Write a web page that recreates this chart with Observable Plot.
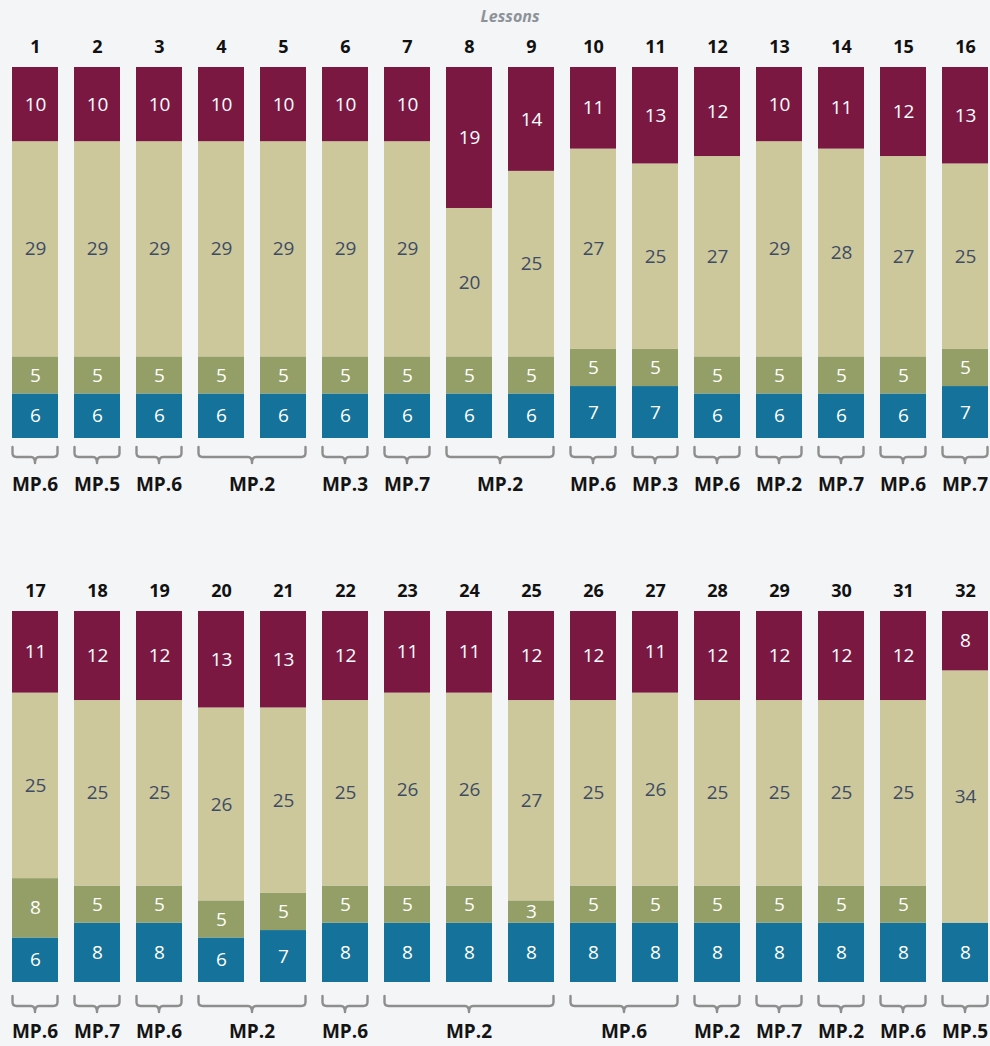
<!DOCTYPE html>
<html>
<head>
<meta charset="utf-8">
<script src="https://cdn.jsdelivr.net/npm/d3@7"></script>
<script src="https://cdn.jsdelivr.net/npm/@observablehq/plot@0.6"></script>
<style>
  html, body { margin: 0; padding: 0; background: #f3f5f7; }
  #wrap { position: relative; width: 990px; height: 1046px; overflow: hidden; background: #f3f5f7; font-family: "Open Sans", sans-serif; }
  #title { position: absolute; top: 5px; left: 460px; width: 100px; text-align: center; font: italic bold 16px "Open Sans", sans-serif; color: #8d9299; }
  .row { position: absolute; left: 0; }
</style>
</head>
<body>
<div id="wrap">
  <div id="title">Lessons</div>
  <div id="row1" class="row" style="top:0px"></div>
  <div id="row2" class="row" style="top:544px"></div>
</div>
<script>
// ---- data ----
const lessons = d3.range(1, 33);
const segments = ["Part 1", "Part 2", "Part 3", "Part 4"]; // bottom to top
const segmentColors = ["#15729a", "#939f66", "#cdc89c", "#7b1842"];
const labelColors = ["#ffffff", "#ffffff", "#3e4c63", "#ffffff"];
const part1Values = [6,6,6,6,6,6,6,6,6,7,7,6,6,6,6,7, 6,8,8,6,7,8,8,8,8,8,8,8,8,8,8,8];
const part2Values = [5,5,5,5,5,5,5,5,5,5,5,5,5,5,5,5, 8,5,5,5,5,5,5,5,3,5,5,5,5,5,5,0];
const part3Values = [29,29,29,29,29,29,29,20,25,27,25,27,29,28,27,25, 25,25,25,26,25,25,26,26,27,25,26,25,25,25,25,34];
const part4Values = [10,10,10,10,10,10,10,19,14,11,13,12,10,11,12,13, 11,12,12,13,13,12,11,11,12,12,11,12,12,12,12,8];

const mpFirst = [1,2,3,4,6,7,8,10,11,12,13,14,15,16, 17,18,19,20,22,23,26,28,29,30,31,32];
const mpLast  = [1,2,3,5,6,7,9,10,11,12,13,14,15,16, 17,18,19,21,22,25,27,28,29,30,31,32];
const mpLabel = ["MP.6","MP.5","MP.6","MP.2","MP.3","MP.7","MP.2","MP.6","MP.3","MP.6","MP.2","MP.7","MP.6","MP.7",
                 "MP.6","MP.7","MP.6","MP.2","MP.6","MP.2","MP.6","MP.2","MP.7","MP.2","MP.6","MP.5"];

const valueArrays = [part1Values, part2Values, part3Values, part4Values];
const rows = [];
lessons.forEach((lesson, i) => {
  segments.forEach((s, k) => rows.push({lesson, segment: s, value: valueArrays[k][i]}));
});
const groups = mpFirst.map((f, i) => ({first: f, last: mpLast[i], label: mpLabel[i]}));

function bracketMark(groupData, off) {
  return (index, scales) => {
    const x = scales.x, y = scales.y;
    const bw = x.bandwidth ? x.bandwidth() : 46;
    const base = y(0);
    const g = d3.create("svg:g");
    for (const d of groupData) {
      const x0 = x(d.first) + 0.5, x1 = x(d.last) + bw - 0.5, xc = (x0 + x1) / 2;
      const yt = base + off.top, yh = base + off.line, yd = base + off.tick;
      const r = 4;
      g.append("path")
        .attr("d", `M${x0},${yt} L${x0},${yh - r} Q${x0},${yh} ${x0 + r},${yh} L${xc - r},${yh} Q${xc},${yh} ${xc},${yd} Q${xc},${yh} ${xc + r},${yh} L${x1 - r},${yh} Q${x1},${yh} ${x1},${yh - r} L${x1},${yt}`)
        .attr("fill", "none").attr("stroke", "#8e8e8e").attr("stroke-width", 2.4)
        .attr("stroke-linejoin", "round").attr("stroke-linecap", "round");
      g.append("text")
        .attr("x", xc).attr("y", base + off.label)
        .attr("text-anchor", "middle").attr("dominant-baseline", "central")
        .attr("font-family", "'Open Sans', sans-serif").attr("font-weight", 700)
        .attr("font-size", 19).attr("fill", "#141414")
        .text(d.label);
    }
    return g.node();
  };
}

function makeRow(rowLessons, off) {
  const data = rows.filter(d => rowLessons.includes(d.lesson));
  const gdata = groups.filter(g => rowLessons.includes(g.first));
  const textMarks = segments.map((s, k) =>
    Plot.text(data, Plot.stackY({
      x: "lesson", y: "value", z: "segment", order: segments,
      text: d => (d.segment === s && d.value > 0) ? String(d.value) : "",
      fill: labelColors[k], fontSize: 19
    }))
  );
  return Plot.plot({
    width: 990,
    height: 500,
    marginTop: 67,
    marginBottom: 62,
    marginLeft: 0,
    marginRight: 0,
    style: {background: "transparent", fontFamily: "'Open Sans', sans-serif", overflow: "visible"},
    x: {domain: rowLessons, range: [1.9, 998.7], paddingInner: 0.26, paddingOuter: 0.13, axis: null},
    y: {domain: [0, 50], axis: null},
    color: {type: "ordinal", domain: segments, range: segmentColors},
    marks: [
      Plot.barY(data, Plot.stackY({x: "lesson", y: "value", fill: "segment", order: segments})),
      ...textMarks,
      Plot.text(rowLessons, {x: d => d, text: d => String(d), frameAnchor: "top", lineAnchor: "middle", dy: -20,
        fontWeight: 700, fontSize: 18, fill: "#111"}),
      bracketMark(gdata, off)
    ]
  });
}

document.getElementById("row1").append(makeRow(lessons.slice(0, 16), {top: 9, line: 19, tick: 25, label: 46}));
document.getElementById("row2").append(makeRow(lessons.slice(16), {top: 14, line: 24, tick: 30, label: 49}));
</script>
</body>
</html>
